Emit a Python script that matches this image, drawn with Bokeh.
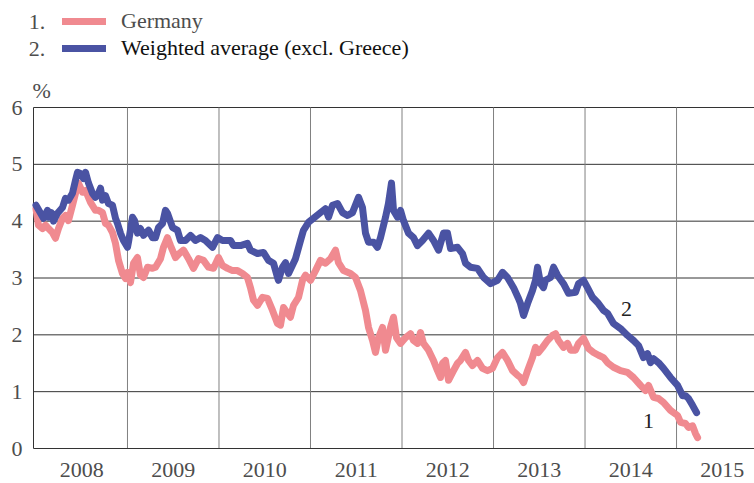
from bokeh.plotting import figure
from bokeh.models import FixedTicker, Legend, LegendItem, Label, Range1d
from bokeh.embed import file_html
from bokeh.resources import INLINE

# ---------------- data (decimal years, % yields) ----------------
years_de = [
    2008.000, 2008.027, 2008.071, 2008.104, 2008.137, 2008.180, 2008.213, 2008.246, 2008.290, 2008.322,
    2008.355, 2008.399, 2008.432, 2008.464, 2008.508, 2008.541, 2008.596, 2008.650, 2008.683, 2008.727,
    2008.760, 2008.792, 2008.836, 2008.869, 2008.902, 2008.945, 2008.978, 2009.000, 2009.033, 2009.066,
    2009.109, 2009.142, 2009.175, 2009.219, 2009.273, 2009.306, 2009.361, 2009.393, 2009.437, 2009.470,
    2009.525, 2009.579, 2009.612, 2009.667, 2009.721, 2009.776, 2009.831, 2009.885, 2009.940, 2009.995,
    2010.038, 2010.093, 2010.148, 2010.202, 2010.257, 2010.311, 2010.344, 2010.377, 2010.421, 2010.475,
    2010.530, 2010.585, 2010.639, 2010.672, 2010.705, 2010.749, 2010.781, 2010.814, 2010.869, 2010.913,
    2010.945, 2011.000, 2011.055, 2011.109, 2011.164, 2011.219, 2011.273, 2011.306, 2011.361, 2011.437,
    2011.492, 2011.546, 2011.601, 2011.634, 2011.678, 2011.710, 2011.743, 2011.787, 2011.820, 2011.874,
    2011.907, 2011.940, 2011.984, 2012.038, 2012.093, 2012.126, 2012.169, 2012.202, 2012.235, 2012.290,
    2012.344, 2012.388, 2012.421, 2012.443, 2012.475, 2012.508, 2012.563, 2012.607, 2012.639, 2012.694,
    2012.727, 2012.770, 2012.825, 2012.880, 2012.934, 2012.989, 2013.044, 2013.098, 2013.153, 2013.208,
    2013.262, 2013.295, 2013.328, 2013.372, 2013.426, 2013.459, 2013.492, 2013.536, 2013.590, 2013.645,
    2013.678, 2013.710, 2013.765, 2013.809, 2013.842, 2013.896, 2013.929, 2013.984, 2014.038, 2014.093,
    2014.148, 2014.202, 2014.246, 2014.311, 2014.388, 2014.464, 2014.530, 2014.607, 2014.661, 2014.694,
    2014.749, 2014.803, 2014.858, 2014.934, 2015.011, 2015.044, 2015.098, 2015.131, 2015.175, 2015.208,
    2015.230,
]
yield_de = [
    4.22, 3.93, 3.87, 3.93, 3.87, 3.80, 3.70, 3.87, 4.05, 4.10,
    4.01, 4.28, 4.49, 4.67, 4.51, 4.54, 4.33, 4.19, 4.19, 4.15,
    3.96, 3.93, 3.80, 3.61, 3.31, 3.08, 2.99, 3.10, 2.92, 3.26,
    3.36, 3.05, 3.01, 3.19, 3.17, 3.19, 3.34, 3.54, 3.71, 3.57,
    3.36, 3.45, 3.49, 3.34, 3.17, 3.34, 3.31, 3.19, 3.17, 3.36,
    3.22, 3.17, 3.13, 3.13, 3.08, 3.01, 2.83, 2.61, 2.52, 2.66,
    2.64, 2.43, 2.20, 2.17, 2.48, 2.38, 2.31, 2.52, 2.66, 2.96,
    3.05, 2.96, 3.13, 3.31, 3.26, 3.34, 3.49, 3.27, 3.13, 3.08,
    3.01, 2.78, 2.43, 2.13, 1.90, 1.69, 1.95, 2.13, 1.73, 2.13,
    2.31, 1.95, 1.85, 1.95, 2.02, 1.90, 1.85, 2.04, 1.85, 1.73,
    1.55, 1.37, 1.25, 1.50, 1.55, 1.20, 1.37, 1.50, 1.55, 1.69,
    1.55, 1.46, 1.55, 1.41, 1.37, 1.41, 1.60, 1.69, 1.55, 1.37,
    1.29, 1.25, 1.16, 1.37, 1.60, 1.78, 1.69, 1.78, 1.90, 1.99,
    2.02, 1.90, 1.78, 1.85, 1.73, 1.73, 1.85, 1.94, 1.76, 1.69,
    1.64, 1.60, 1.51, 1.43, 1.37, 1.34, 1.25, 1.11, 1.02, 1.11,
    0.90, 0.88, 0.81, 0.67, 0.58, 0.46, 0.44, 0.37, 0.40, 0.26,
    0.19,
]

years_avg = [
    2008.000, 2008.082, 2008.126, 2008.137, 2008.169, 2008.191, 2008.235, 2008.290, 2008.322, 2008.355,
    2008.399, 2008.432, 2008.454, 2008.486, 2008.519, 2008.541, 2008.574, 2008.617, 2008.650, 2008.683,
    2008.705, 2008.727, 2008.760, 2008.792, 2008.836, 2008.869, 2008.891, 2008.923, 2008.956, 2009.000,
    2009.011, 2009.055, 2009.077, 2009.109, 2009.142, 2009.175, 2009.230, 2009.273, 2009.306, 2009.339,
    2009.383, 2009.415, 2009.437, 2009.492, 2009.546, 2009.579, 2009.634, 2009.689, 2009.743, 2009.798,
    2009.852, 2009.929, 2009.984, 2010.038, 2010.126, 2010.158, 2010.235, 2010.311, 2010.344, 2010.421,
    2010.486, 2010.541, 2010.596, 2010.639, 2010.650, 2010.694, 2010.727, 2010.760, 2010.836, 2010.891,
    2010.923, 2010.978, 2011.033, 2011.109, 2011.164, 2011.197, 2011.240, 2011.295, 2011.350, 2011.404,
    2011.459, 2011.525, 2011.568, 2011.601, 2011.634, 2011.689, 2011.732, 2011.765, 2011.820, 2011.852,
    2011.885, 2011.907, 2011.951, 2011.984, 2012.016, 2012.071, 2012.126, 2012.169, 2012.224, 2012.290,
    2012.344, 2012.399, 2012.454, 2012.497, 2012.530, 2012.607, 2012.661, 2012.694, 2012.749, 2012.825,
    2012.891, 2012.967, 2013.044, 2013.098, 2013.153, 2013.219, 2013.273, 2013.295, 2013.328, 2013.372,
    2013.426, 2013.459, 2013.481, 2013.514, 2013.546, 2013.568, 2013.623, 2013.656, 2013.699, 2013.765,
    2013.820, 2013.896, 2013.929, 2013.984, 2014.027, 2014.082, 2014.137, 2014.202, 2014.246, 2014.311,
    2014.388, 2014.464, 2014.530, 2014.585, 2014.639, 2014.683, 2014.716, 2014.749, 2014.803, 2014.858,
    2014.934, 2015.011, 2015.066, 2015.098, 2015.131, 2015.175, 2015.219,
]
yield_avg = [
    4.28, 4.05, 4.19, 4.07, 4.15, 4.00, 4.14, 4.24, 4.40, 4.37,
    4.49, 4.72, 4.86, 4.84, 4.75, 4.86, 4.67, 4.49, 4.42, 4.49,
    4.58, 4.37, 4.45, 4.31, 4.28, 4.05, 3.96, 3.79, 3.66, 3.54,
    3.63, 4.07, 4.01, 3.79, 3.87, 3.75, 3.84, 3.71, 3.71, 3.89,
    3.96, 4.19, 4.14, 3.89, 3.84, 3.66, 3.66, 3.75, 3.66, 3.71,
    3.66, 3.54, 3.71, 3.66, 3.66, 3.57, 3.57, 3.61, 3.49, 3.43,
    3.45, 3.31, 3.26, 3.01, 2.96, 3.19, 3.27, 3.08, 3.34, 3.66,
    3.84, 3.98, 4.05, 4.15, 4.22, 4.07, 4.28, 4.31, 4.15, 4.10,
    4.15, 4.42, 4.24, 3.79, 3.63, 3.63, 3.54, 3.71, 4.07, 4.31,
    4.67, 4.19, 4.07, 4.19, 4.01, 3.79, 3.71, 3.57, 3.66, 3.79,
    3.66, 3.49, 3.79, 3.79, 3.52, 3.54, 3.43, 3.26, 3.19, 3.17,
    3.01, 2.90, 2.96, 3.10, 3.01, 2.83, 2.64, 2.55, 2.34, 2.55,
    2.78, 2.96, 3.19, 2.90, 2.83, 2.96, 3.01, 3.19, 3.05, 2.90,
    2.73, 2.75, 2.90, 2.96, 2.83, 2.66, 2.57, 2.43, 2.38, 2.20,
    2.11, 1.99, 1.90, 1.81, 1.60, 1.67, 1.51, 1.58, 1.51, 1.41,
    1.25, 1.11, 0.93, 0.93, 0.88, 0.76, 0.63,
]

year_labels = ["2008", "2009", "2010", "2011", "2012", "2013", "2014", "2015"]
y_ticks = [0, 1, 2, 3, 4, 5, 6]
series_names = ["Germany", "Weighted average (excl. Greece)"]
series_numbers = ["1.", "2."]
unit_label = "%"

# ---------------- styling / layout ----------------
FONT = "Liberation Serif"
PINK = "#f08a90"
BLUE = "#4a53a3"
GREY = "#4d4d4d"

X_START, X_END = 2007.973, 2015.852   # visible data window (y-axis line sits at X_START)
PX_PER_YEAR = 91.5
LEFT = 24                              # canvas x of the frame's left edge
AXIS_X = 33                            # canvas x of the y-axis line
FRAME_H = 448                          # frame spans canvas top .. zero line
PX_PER_UNIT = 341 / 6.0

label_pos = [int(y) + 0.5 for y in year_labels]
year_bounds = [int(y) for y in year_labels[1:]]

p = figure(frame_width=754 - LEFT, frame_height=FRAME_H, title_location=None,
           x_range=Range1d(X_START - (AXIS_X - LEFT) / PX_PER_YEAR, X_END),
           y_range=Range1d(0, FRAME_H / PX_PER_UNIT),
           output_backend="svg", toolbar_location=None,
           min_border_left=LEFT, min_border_right=0, min_border_top=0,
           min_border_bottom=35, outline_line_color=None)

for ax in (p.xaxis[0], p.yaxis[0]):
    ax.major_tick_out = 0
    ax.major_tick_in = 0
    ax.minor_tick_out = 0
    ax.minor_tick_in = 0
    ax.axis_line_color = "#333333"
    ax.axis_line_width = 1
    ax.major_label_text_font = FONT
    ax.major_label_text_font_size = "22px"
    ax.major_label_text_color = GREY

p.yaxis.ticker = FixedTicker(ticks=y_ticks)
p.yaxis.axis_line_color = None          # the visible y-axis line is drawn at X_START below
p.yaxis.major_label_standoff = 2
p.xaxis.ticker = FixedTicker(ticks=label_pos)
p.xaxis.bounds = (X_START, X_END)
p.xaxis.major_label_overrides = {pos: lab for pos, lab in zip(label_pos, year_labels)}
p.xaxis.major_label_standoff = 14

# grid: horizontal lines at the y ticks, vertical year separators up to 6 %
p.xgrid.visible = False
p.ygrid.visible = False
p.segment(x0=[X_START] * len(y_ticks), y0=y_ticks,
          x1=[X_END] * len(y_ticks), y1=y_ticks,
          line_color="#333333", line_width=1)
p.segment(x0=year_bounds, y0=[y_ticks[0]] * len(year_bounds),
          x1=year_bounds, y1=[y_ticks[-1]] * len(year_bounds),
          line_color="#808080", line_width=1)
p.segment(x0=[X_START], y0=[y_ticks[0]], x1=[X_START], y1=[y_ticks[-1]],
          line_color="#333333", line_width=1)

r_de = p.line(years_de, yield_de, line_color=PINK, line_width=7,
              line_join="round", line_cap="round")
r_avg = p.line(years_avg, yield_avg, line_color=BLUE, line_width=7,
               line_join="round", line_cap="round")

# legend (location = bottom-left corner, measured from the frame's bottom-left)
common = dict(orientation="vertical", padding=0, margin=0, spacing=0,
              glyph_width=44, glyph_height=26, label_standoff=15,
              label_text_font=FONT, label_text_font_size="22px",
              label_height=26, border_line_color=None,
              background_fill_alpha=0)
leg1 = Legend(items=[LegendItem(label=series_names[0], renderers=[r_de])],
              location=(62 - LEFT, FRAME_H - 34), label_text_color=GREY, **common)
leg2 = Legend(items=[LegendItem(label=series_names[1], renderers=[r_avg])],
              location=(62 - LEFT, FRAME_H - 60.6), label_text_color="#111111", **common)
p.add_layout(leg1)
p.add_layout(leg2)

for txt, yy in zip(series_numbers, (FRAME_H - 21.3, FRAME_H - 48.0)):
    p.add_layout(Label(x=28.3 - LEFT, y=yy, x_units="screen", y_units="screen",
                       text=txt, text_baseline="alphabetic", text_align="left",
                       text_font=FONT, text_font_size="22px", text_color=GREY))

p.add_layout(Label(x=32 - LEFT, y=FRAME_H - 89.5, x_units="screen", y_units="screen",
                   text=unit_label, text_baseline="alphabetic", text_align="left",
                   text_font=FONT, text_font_size="22px", text_color=GREY))

# series end labels
p.add_layout(Label(x=2014.694, y=0.49, text="1", text_align="center",
                   text_baseline="middle", text_font=FONT,
                   text_font_size="22px", text_color="#222222"))
p.add_layout(Label(x=2014.454, y=2.46, text="2", text_align="center",
                   text_baseline="middle", text_font=FONT,
                   text_font_size="22px", text_color="#222222"))

open("out.html", "w").write(file_html(p, INLINE))
